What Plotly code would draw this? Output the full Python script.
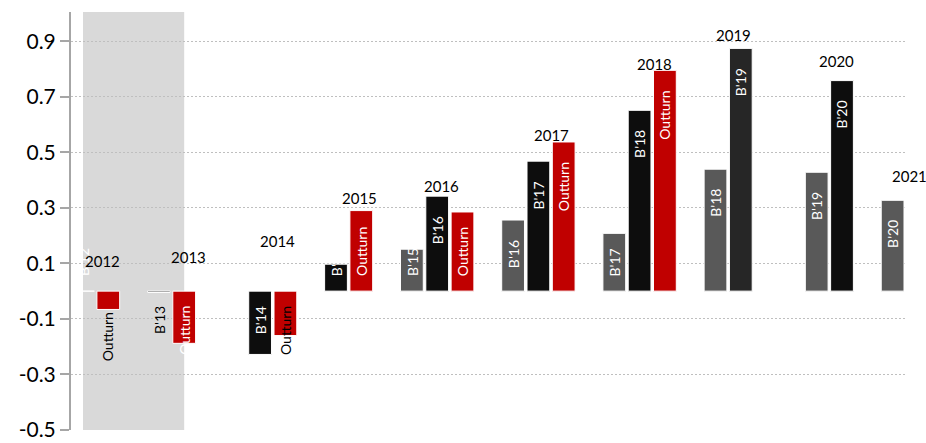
import plotly.graph_objects as go

# ---------------- data ----------------
bar_labels = ["B'12", "Outturn", "B'13", "Outturn", "B'14", "Outturn",
              "B'15", "Outturn", "B'15", "B'16", "Outturn",
              "B'16", "B'17", "Outturn", "B'17", "B'18", "Outturn",
              "B'18", "B'19", "B'19", "B'20", "B'20"]
bar_years = [2012, 2012, 2013, 2013, 2014, 2014,
             2015, 2015, 2016, 2016, 2016,
             2017, 2017, 2017, 2018, 2018, 2018,
             2019, 2019, 2020, 2020, 2021]
bar_values = [0.0, -0.066, -0.005, -0.188, -0.228, -0.160,
              0.097, 0.290, 0.151, 0.342, 0.285,
              0.256, 0.468, 0.537, 0.208, 0.651, 0.795,
              0.439, 0.874, 0.428, 0.758, 0.327]
bar_kinds = ["budget", "outturn", "budget", "outturn", "budget", "outturn",
             "budget", "outturn", "prior", "budget", "outturn",
             "prior", "budget", "outturn", "prior", "budget", "outturn",
             "prior", "budget_dark", "prior", "budget", "prior"]
year_labels = ["2012", "2013", "2014", "2015", "2016",
               "2017", "2018", "2019", "2020", "2021"]
y_tick_vals = [-0.5, -0.3, -0.1, 0.1, 0.3, 0.5, 0.7, 0.9]

# ---------------- layout / style ----------------
bar_slots = [0, 1, 3, 4, 7, 8, 10, 11, 13, 14, 15, 17, 18, 19,
             21, 22, 23, 25, 26, 29, 30, 32]
year_label_x = [0.79, 4.17, 7.69, 10.93, 14.17, 18.52, 22.57, 25.73, 29.80, 32.67]
year_label_y = [0.109, 0.122, 0.179, 0.334, 0.379, 0.561, 0.819, 0.924, 0.828, 0.413]

colors = {"prior": "#595959", "budget": "#0d0d0d",
          "budget_dark": "#262626", "outturn": "#c00000"}
FONT = "Lato, Carlito, 'Open Sans', sans-serif"

W, H = 926, 443
M = dict(l=71, r=21, t=12, b=13, pad=0)
y_range = [-0.5, 1.005]
x_range = [-0.474, 32.49]
px_per_unit = (H - M["t"] - M["b"]) / (y_range[1] - y_range[0])

fig = go.Figure()
for kind, col in colors.items():
    idx = [i for i, k in enumerate(bar_kinds) if k == kind]
    fig.add_trace(go.Bar(
        x=[bar_slots[i] for i in idx],
        y=[bar_values[i] for i in idx],
        width=0.9,
        marker=dict(color=col, line=dict(color="white", width=1)),
        showlegend=False, hoverinfo="skip"))


def text_len(s):
    return 51 if s == "Outturn" else 28


for lab, v, s in zip(bar_labels, bar_values, bar_slots):
    L = text_len(lab)
    h = abs(v) * px_per_unit
    if v >= 0:
        color = "white"
        if h - 31 >= L:
            y, anchor, shift = v, "top", -19
        else:
            y, anchor, shift = 0, "bottom", 14
    else:
        color = "white" if h >= L else "black"
        anchor = "top"
        if h < 25 and h + 4 > 17:
            y, shift = v, -2
        else:
            y, shift = 0, -14
    fig.add_annotation(x=s, y=y, text=lab, textangle=-90, showarrow=False,
                       xanchor="center", yanchor=anchor, yshift=shift,
                       borderpad=0,
                       font=dict(family=FONT, size=14, color=color))

for t, x, y in zip(year_labels, year_label_x, year_label_y):
    xp = (x - x_range[0]) / (x_range[1] - x_range[0])
    fig.add_annotation(x=xp, xref="paper", y=y, text=t, showarrow=False,
                       xanchor="center", yanchor="middle",
                       font=dict(family=FONT, size=15, color="#000000"))

# shaded background region
fig.add_shape(type="rect", xref="x", yref="paper", x0=0, x1=4, y0=0, y1=1,
              fillcolor="#d9d9d9", line=dict(width=0), layer="between")

fig.update_layout(
    width=W, height=H, margin=M,
    paper_bgcolor="white", plot_bgcolor="white",
    barmode="overlay", showlegend=False,
    xaxis=dict(range=x_range, visible=False, automargin=False),
    yaxis=dict(range=y_range, tickvals=y_tick_vals, automargin=False,
               ticktext=[f"{v:.1f}" for v in y_tick_vals],
               showline=True, linecolor="#a6a6a6", linewidth=2,
               ticks="outside", ticklen=9, tickwidth=2, tickcolor="#a6a6a6",
               showgrid=True, gridcolor="#bfbfbf", gridwidth=1, griddash="2px,2px",
               zeroline=False,
               tickfont=dict(family=FONT, size=21, color="#000000")),
)

fig.write_html("out.html", config={"displayModeBar": False},
               post_script="document.body.style.margin='0';document.body.style.padding='0';")
